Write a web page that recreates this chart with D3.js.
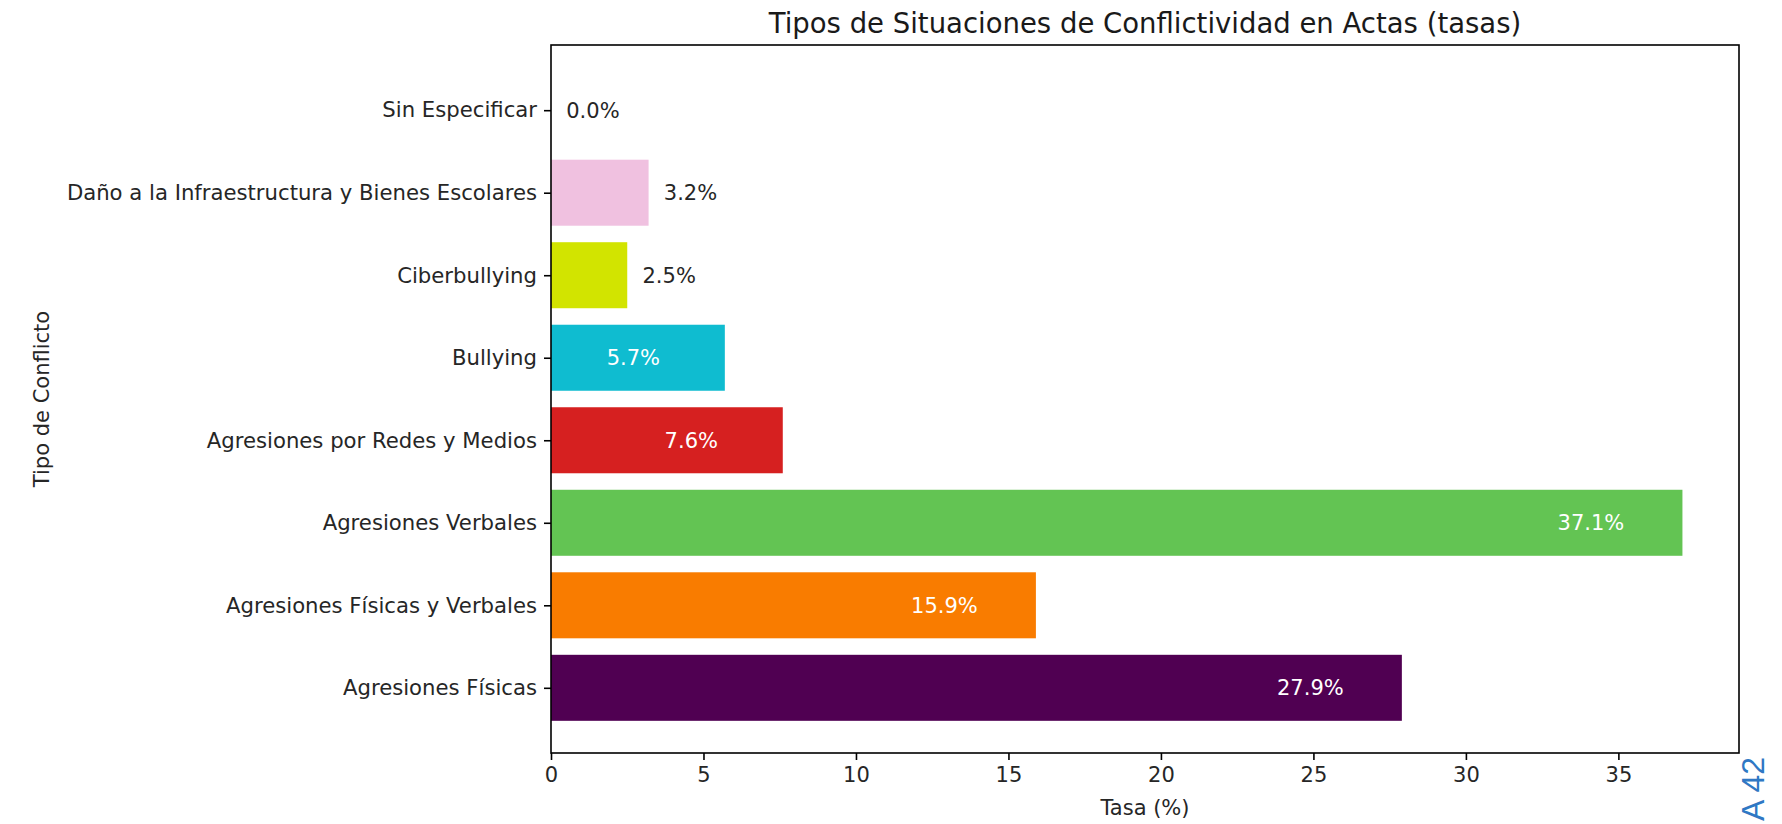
<!DOCTYPE html>
<html><head><meta charset="utf-8">
<script src="https://cdn.jsdelivr.net/npm/d3@7"></script>
<style>
html,body{margin:0;padding:0;background:#fff;}
svg{display:block;font-family:"DejaVu Sans",sans-serif;}
</style></head>
<body><svg id="c" width="1782" height="824"></svg>
<script>
const categories = ["Agresiones Físicas","Agresiones Físicas y Verbales","Agresiones Verbales","Agresiones por Redes y Medios","Bullying","Ciberbullying","Daño a la Infraestructura y Bienes Escolares","Sin Especificar"];
const rates = [27.9, 15.9, 37.1, 7.6, 5.7, 2.5, 3.2, 0.0];
const colors = ["#500052","#f97c00","#63c453","#d62020","#0fbcd0","#d2e400","#f0c1e0","#1f77b4"];
const xTicks = [0,5,10,15,20,25,30,35];
const title = "Tipos de Situaciones de Conflictividad en Actas (tasas)";
const xLabel = "Tasa (%)";
const yLabel = "Tipo de Conflicto";
const pageMark = "A 42";

const svg = d3.select("#c");
const L = 551, R = 1739, T = 45, B = 753;
const xmax = d3.max(rates) * 1.05;
const x = d3.scaleLinear().domain([0, xmax]).range([L, R]);
const n = categories.length;
const y = d3.scaleLinear().domain([-0.4 - 0.05 * (n - 0.2), n - 0.6 + 0.05 * (n - 0.2)]).range([B, T]);
const bh = (y(0) - y(0.8));

svg.append("g").selectAll("rect").data(rates).join("rect")
  .attr("x", x(0))
  .attr("y", (d, i) => y(i + 0.4))
  .attr("width", d => x(d) - x(0))
  .attr("height", bh)
  .attr("fill", (d, i) => colors[i]);

// value labels
svg.append("g").selectAll("text").data(rates).join("text")
  .attr("x", d => d > 5 ? x(d - 3) : x(d + 0.5))
  .attr("y", (d, i) => y(i))
  .attr("dy", "0.36em")
  .attr("text-anchor", d => d > 5 ? "middle" : "start")
  .attr("fill", d => d > 5 ? "#ffffff" : "#262626")
  .style("font-size", "21px")
  .text(d => d.toFixed(1) + "%");

// axes
const xAxis = d3.axisBottom(x).tickValues(xTicks).tickSize(7).tickPadding(7).tickFormat(d3.format("d"));
const gx = svg.append("g").attr("transform", `translate(0,${B})`).call(xAxis);
gx.select(".domain").remove();
gx.selectAll("line").attr("stroke", "#000").attr("stroke-width", 1.6);
gx.selectAll("text").style("font-size", "21px").attr("fill", "#262626").attr("font-family", "DejaVu Sans");

const yAxis = d3.axisLeft(y).tickValues(d3.range(n)).tickSize(7).tickPadding(7).tickFormat(i => categories[i]);
const gy = svg.append("g").attr("transform", `translate(${L},0)`).call(yAxis);
gy.select(".domain").remove();
gy.selectAll("line").attr("stroke", "#000").attr("stroke-width", 1.6);
gy.selectAll("text").style("font-size", "21.2px").attr("fill", "#262626").attr("font-family", "DejaVu Sans");

// frame
svg.append("rect").attr("x", L).attr("y", T).attr("width", R - L).attr("height", B - T)
  .attr("fill", "none").attr("stroke", "#000").attr("stroke-width", 1.6);

svg.append("text").attr("x", (L + R) / 2).attr("y", 33).attr("text-anchor", "middle")
  .style("font-size", "27.5px").attr("fill", "#1a1a1a").text(title);
svg.append("text").attr("x", (L + R) / 2).attr("y", 815).attr("text-anchor", "middle")
  .style("font-size", "21px").attr("fill", "#262626").text(xLabel);
svg.append("text").attr("transform", `translate(49,${(T + B) / 2}) rotate(-90)`).attr("text-anchor", "middle")
  .style("font-family", "DejaVu Sans").style("font-size", "21px").attr("fill", "#262626").text(yLabel);

svg.append("text").attr("transform", `translate(1764,757) rotate(-90)`).attr("text-anchor", "end")
  .style("font-family", "Liberation Sans, Arial, sans-serif").style("font-size", "32px").attr("fill", "#2f78c4")
  .text(pageMark);
</script></body></html>
